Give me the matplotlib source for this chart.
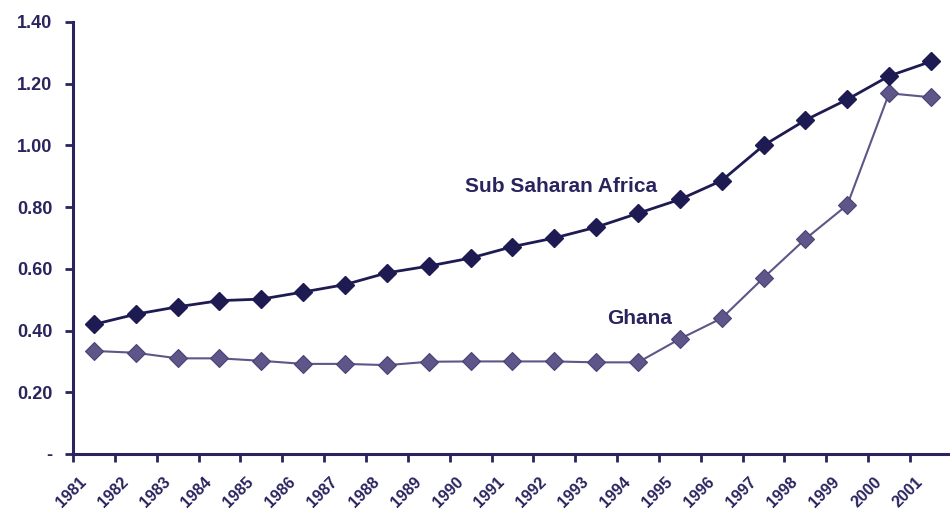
import matplotlib
matplotlib.use("Agg")
import matplotlib.pyplot as plt
import matplotlib.transforms as mtransforms
import numpy as np

years = [str(y) for y in range(1981, 2002)]
ssa = [0.42, 0.453, 0.477, 0.497, 0.502, 0.525, 0.549, 0.587, 0.609, 0.635, 0.672,
       0.70, 0.735, 0.78, 0.825, 0.886, 1.00, 1.082, 1.149, 1.225, 1.272]
ghana = [0.334, 0.328, 0.31, 0.31, 0.302, 0.292, 0.292, 0.288, 0.299, 0.30, 0.30,
         0.30, 0.297, 0.297, 0.373, 0.44, 0.571, 0.697, 0.807, 1.169, 1.156]
yticks = [0, 0.2, 0.4, 0.6, 0.8, 1.0, 1.2, 1.4]
ytick_labels = ["-", "0.20", "0.40", "0.60", "0.80", "1.00", "1.20", "1.40"]

navy = "#1e1a52"
purple = "#5e5588"
axcol = "#29245e"

plt.rcParams['font.family'] = ['Liberation Sans', 'DejaVu Sans']
W, H = 950, 513
fig = plt.figure(figsize=(9.5, 5.13), dpi=100)
ax = fig.add_axes([73/W, 1-454/H, 1-73/W+0.002, (454-22)/H])

x = np.arange(len(years))
ax.plot(x, ghana, color=purple, lw=1.5, marker='D', markersize=9.5,
        markerfacecolor=purple, markeredgecolor="#4a4275", markeredgewidth=0.8, clip_on=False)
ax.plot(x, ssa, color=navy, lw=2.0, marker='D', markersize=9.5,
        markerfacecolor=navy, markeredgecolor=navy, clip_on=False)

ax.set_xlim(-0.5, 20.5)
ax.set_ylim(0, 1.4)
ax.set_yticks(yticks)
ax.set_yticklabels(ytick_labels)

ax.set_xticks(np.arange(-0.5, 20.0, 1.0))
ax.set_xticklabels([])
ax.tick_params(axis='x', which='major', length=6, width=2, color=axcol, direction='out')
ax.tick_params(axis='y', length=6, width=2, color=axcol, direction='out', pad=9)

# rotated category labels
base = mtransforms.blended_transform_factory(ax.transData, ax.transAxes)
off = mtransforms.ScaledTranslation(-10/100, -25.5/100, fig.dpi_scale_trans)
for xi, yr in zip(x, years):
    ax.text(xi, 0, yr, transform=base + off, rotation=45, ha='right', va='center',
            rotation_mode='anchor', fontsize=11.5, fontweight='bold', color=axcol,
            clip_on=False)

for lab in ax.get_yticklabels():
    lab.set_fontweight('bold'); lab.set_fontsize(13); lab.set_color(axcol)

for s in ['top', 'right']:
    ax.spines[s].set_visible(False)
for s in ['left', 'bottom']:
    ax.spines[s].set_color(axcol)
    ax.spines[s].set_linewidth(2.2)

fig.text(561/W, 1-186/H, "Sub Saharan Africa", fontsize=15, fontweight='bold',
         color=axcol, ha='center', va='center')
fig.text(640/W, 1-319/H, "Ghana", fontsize=15, fontweight='bold',
         color=axcol, ha='center', va='center')

fig.savefig("out.png", dpi=100)
